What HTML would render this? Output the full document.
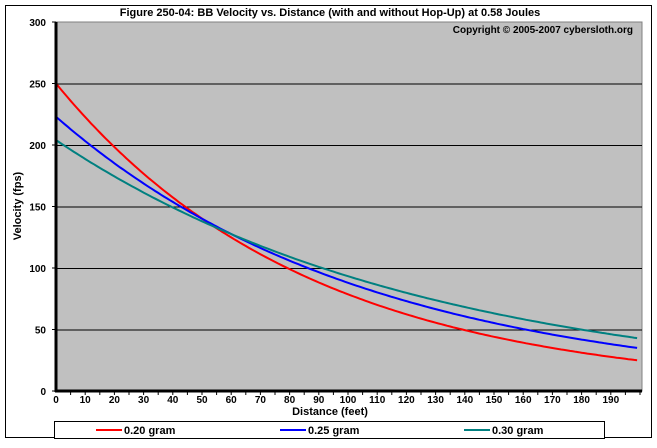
<!DOCTYPE html>
<html><head><style>
body{margin:0;background:#fff;}
svg text{font-family:"Liberation Sans",Arial,sans-serif;font-weight:bold;}
</style></head><body>
<svg id="s" width="657" height="443" xmlns="http://www.w3.org/2000/svg">
<rect x="5.5" y="5.5" width="646" height="432" fill="#fff" stroke="#000" stroke-width="1"/>
<rect x="56" y="22" width="586" height="369" fill="#c0c0c0" stroke="#808080" stroke-width="1"/>
<g id="grid" stroke="#000" stroke-width="1"></g>
<text x="330" y="16" font-size="11" text-anchor="middle">Figure 250-04:  BB Velocity vs. Distance (with and without Hop-Up) at 0.58 Joules</text>
<text x="633" y="33" font-size="10" text-anchor="end">Copyright © 2005-2007 cybersloth.org</text>
<g id="lines" fill="none" stroke-width="2"></g>
<line x1="56" y1="22" x2="56" y2="392" stroke="#000" stroke-width="3"/>
<line x1="55" y1="391" x2="642" y2="391" stroke="#000" stroke-width="3"/>
<g id="labels" font-size="10"></g>
<text x="330" y="415" font-size="11" text-anchor="middle">Distance (feet)</text>
<text transform="translate(21,206) rotate(-90)" font-size="11" text-anchor="middle">Velocity (fps)</text>
<rect x="54.5" y="421.5" width="550" height="17" fill="#fff" stroke="#000"/>
<line x1="96" y1="430" x2="122" y2="430" stroke="#f00" stroke-width="2"/>
<text x="124" y="434" font-size="11">0.20 gram</text>
<line x1="280" y1="430" x2="306" y2="430" stroke="#00f" stroke-width="2"/>
<text x="308" y="434" font-size="11">0.25 gram</text>
<line x1="464" y1="430" x2="490" y2="430" stroke="#008080" stroke-width="2"/>
<text x="492" y="434" font-size="11">0.30 gram</text>
</svg>
<script>
var NS="http://www.w3.org/2000/svg";
function el(p,t,a,txt){var e=document.createElementNS(NS,t);for(var k in a)e.setAttribute(k,a[k]);if(txt!==undefined)e.textContent=txt;document.getElementById(p).appendChild(e);}
function X(d){return 56+d*2.92;}function Y(v){return 391-v*1.23;}
for(var v=50;v<=250;v+=50)el("grid","line",{x1:56,x2:642,y1:Y(v)+.5,y2:Y(v)+.5});
for(var v=0;v<=300;v+=50){el("labels","text",{x:46,y:Y(v)+4,"text-anchor":"end"},String(v));el("labels","line",{x1:52,x2:56,y1:Y(v),y2:Y(v),stroke:"#000"});}
for(var d=0;d<=190;d+=10)el("labels","text",{x:X(d),y:403,"text-anchor":"middle"},String(d));
for(var d=5;d<=200;d+=5)el("labels","line",{x1:X(d),x2:X(d),y1:391,y2:395,stroke:"#000"});
var S=[[250,0.01157,"#f00"],[223,0.0093,"#00f"],[204,0.00782,"#008080"]];
S.forEach(function(s){var p=[];for(var d=0;d<=199;d+=1)p.push(X(d).toFixed(1)+","+Y(s[0]*Math.exp(-s[1]*d)).toFixed(1));el("lines","polyline",{points:p.join(" "),stroke:s[2]});});
</script>
</body></html>
